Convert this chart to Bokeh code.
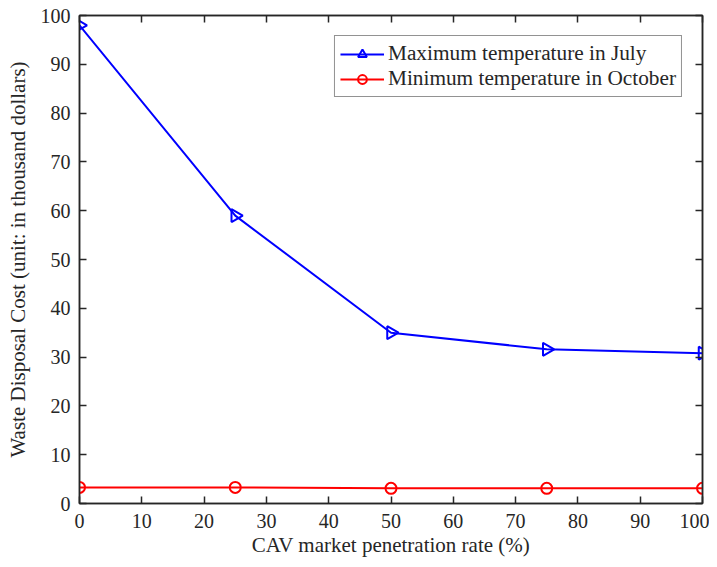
import numpy as np
from bokeh.plotting import figure
from bokeh.models import LinearAxis, Range1d, Legend, LegendItem, FixedTicker, ColumnDataSource
from bokeh.embed import file_html
from bokeh.resources import INLINE

rate = [0, 25, 50, 75, 100]
max_july = [98.0, 59.0, 35.0, 31.6, 30.8]
min_oct = [3.3, 3.3, 3.1, 3.1, 3.1]
x_ticks = list(range(0, 101, 10))
y_ticks = list(range(0, 101, 10))

FONT = "Liberation Serif"
AX = "#262626"

p = figure(width=709, height=559, output_backend="svg", toolbar_location=None,
           x_range=Range1d(0, 100), y_range=Range1d(0, 100),
           min_border_left=79, min_border_right=7, min_border_top=15, min_border_bottom=52)
p.grid.visible = False
p.outline_line_color = AX
p.outline_line_width = 1.5

def style(ax, ticks, labels=True):
    ax.ticker = FixedTicker(ticks=ticks)
    ax.major_tick_in = 7
    ax.major_tick_out = 0
    ax.minor_tick_line_color = None
    ax.axis_line_color = AX
    ax.axis_line_width = 1.5
    ax.major_tick_line_color = AX
    ax.major_tick_line_width = 1.5
    ax.major_label_text_font = FONT
    ax.major_label_text_font_size = "20px"
    ax.major_label_text_color = AX
    ax.axis_label_text_font = FONT
    ax.axis_label_text_font_size = "21px"
    ax.axis_label_text_font_style = "normal"
    ax.axis_label_text_color = AX
    if not labels:
        ax.major_label_text_font_size = "0px"
        ax.major_label_standoff = 0

style(p.xaxis[0], x_ticks)
style(p.yaxis[0], y_ticks)
p.xaxis[0].axis_label = "CAV market penetration rate (%)"
p.yaxis[0].axis_label = "Waste Disposal Cost (unit: in thousand dollars)"
p.xaxis[0].major_label_standoff = 10
p.yaxis[0].major_label_standoff = 9
p.xaxis[0].axis_label_standoff = 2
p.yaxis[0].axis_label_standoff = 8

top = LinearAxis()
style(top, x_ticks, labels=False)
right = LinearAxis()
style(right, y_ticks, labels=False)
p.add_layout(top, "above")
p.add_layout(right, "right")

src1 = ColumnDataSource(dict(x=rate, y=max_july, a=[-np.pi / 2] * len(rate)))
l1 = p.line(rate, max_july, line_color="blue", line_width=2)
m1 = p.scatter("x", "y", source=src1, marker="triangle", angle="a", size=13,
               line_color="blue", line_width=2, fill_color=None)
l2 = p.line(rate, min_oct, line_color="red", line_width=2)
m2 = p.scatter(rate, min_oct, marker="circle", size=11,
               line_color="red", line_width=2, fill_color=None)

legend = Legend(items=[
    LegendItem(label="Maximum temperature in July", renderers=[l1, m1], index=0),
    LegendItem(label="Minimum temperature in October", renderers=[l2, m2], index=0),
], location="top_right")
legend.margin = 20
legend.border_line_color = AX
legend.border_line_width = 1.5
legend.label_text_font = FONT
legend.label_text_font_size = "21.3px"
legend.label_text_color = AX
legend.glyph_width = 44
legend.glyph_height = 22
legend.label_height = 22
legend.spacing = 0
legend.padding = 5
legend.label_standoff = 4
p.add_layout(legend, "center")

open("out.html", "w").write(file_html(p, INLINE))
